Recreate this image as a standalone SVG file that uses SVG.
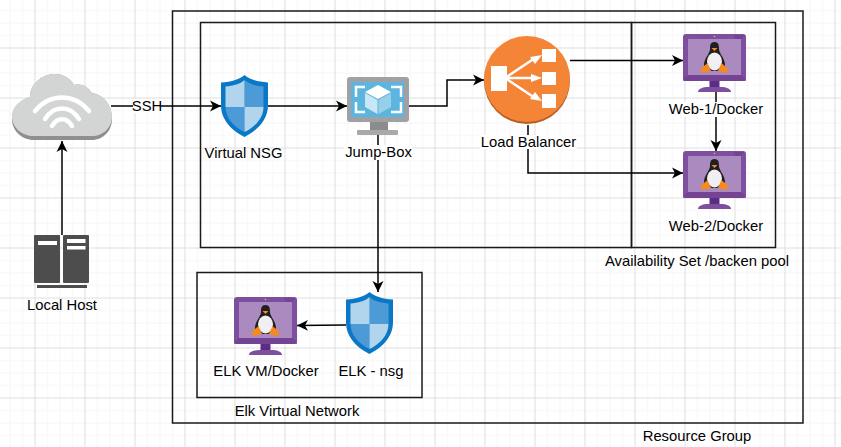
<svg xmlns="http://www.w3.org/2000/svg" width="841" height="447" viewBox="0 0 841 447">
<style>
text{font-family:"Liberation Sans",Arial,sans-serif;font-size:14.8px;fill:#000;text-anchor:middle}
.box{fill:none;stroke:#1a1a1a;stroke-width:1.5}
.edge{fill:none;stroke:#000;stroke-width:1.5;marker-end:url(#arrow)}
.lb{fill:#fff}
</style>
<defs>
<pattern id="grid" width="50" height="50" patternUnits="userSpaceOnUse" x="-15.5" y="-2.5">
<g fill="#f5f5f5"><rect x="12.5" width="1" height="50"/><rect x="25" width="1" height="50"/><rect x="37.5" width="1" height="50"/><rect y="12.5" width="50" height="1"/><rect y="25" width="50" height="1"/><rect y="37.5" width="50" height="1"/></g>
<g fill="#dedede"><rect width="1" height="50"/><rect width="50" height="1"/></g>
</pattern>
<marker id="arrow" markerUnits="userSpaceOnUse" markerWidth="14" markerHeight="12" refX="11" refY="6" orient="auto"><path d="M0,0.5 L11,6 L0,11.5 L3,6 Z" fill="#000"/></marker>
<g id="shield">
<path d="M23.5,0 C28,4 36,7 47,7.5 L47,30 C47,46 35,56 23.5,62 C12,56 0,46 0,30 L0,7.5 C11,7 19,4 23.5,0 Z" fill="#0a78c6"/>
<path d="M23.5,5 C28,9 35,11 42.5,11.5 L42.5,32 L23.5,32 Z" fill="#4d9bd6"/>
<path d="M23.5,5 C19,9 12,11 4.5,11.5 L4.5,32 L23.5,32 Z" fill="#b2d5ee"/>
<path d="M4.5,32 L23.5,32 L23.5,57 C13,52 4.5,43 4.5,32 Z" fill="#4d9bd6"/>
<path d="M42.5,32 L23.5,32 L23.5,57 C34,52 42.5,43 42.5,32 Z" fill="#b2d5ee"/>
</g>
<g id="linuxvm">
<rect x="0" y="0" width="63" height="47" rx="3" fill="#7f4f9f"/>
<rect x="5" y="5" width="53" height="36" fill="#ab8abf"/>
<path d="M0,45 L5,41 L58,41 L63,45 L63,47 L0,47 Z M58,5 L62,1 L50,1 L52,5 Z" fill="#6f3f8f" opacity=".7"/>
<rect x="26.500" y="47" width="10" height="6" fill="#5c2d84"/>
<path d="M15,58 C15,55 19,53 26,53 L37,53 C44,53 48,55 48,58 Z" fill="#7f4f9f"/>
<circle cx="31.500" cy="2.500" r=".8" fill="#c9c94a"/>
<path d="M31.500,8 C27.500,8 27,11 27,15 C27,19 22,23 21,30 C21,35 25,37 31.500,37 C38,37 42,35 42,30 C41,23 36,19 36,15 C36,11 35.500,8 31.500,8 Z" fill="#231f20"/>
<ellipse cx="31.500" cy="27.500" rx="7.500" ry="9" fill="#f1eff3"/>
<path d="M28.500,14 L34.500,14 L31.500,17 Z" fill="#f58b1f"/>
<path d="M20,33 L24.500,29 L28,37 L20,39 L17,36 Z M43,33 L38.500,29 L35,37 L43,39 L46,36 Z" fill="#f58b1f"/>
</g>
</defs>
<rect id="background" width="841" height="447" fill="#fff"/>
<rect width="841" height="447" fill="url(#grid)"/>

<g id="containers">
<rect class="box" x="172.500" y="11" width="630.500" height="412"/>
<rect class="box" x="200.500" y="22.500" width="431" height="225"/>
<rect class="box" x="631.500" y="22.500" width="144" height="225"/>
<rect class="box" x="197" y="272.500" width="225" height="125"/>
</g>

<g id="connectors">
<path class="edge" d="M111,106 H221"/>
<path class="edge" d="M268,106 H347"/>
<path class="edge" d="M409,106 H447 V80 H484"/>
<path class="edge" d="M62,235 V141"/>
<path class="edge" d="M570,60.500 H683"/>
<path class="edge" d="M528,125 V173 H683"/>
<path class="edge" d="M716,92 V151"/>
<path class="edge" d="M378,135 L378,292"/>
<path class="edge" d="M346,325 L297,325.500"/>
</g>

<g id="ssh-label"><rect class="lb" x="133" y="99" width="28" height="14"/><text x="147" y="111">SSH</text></g>

<g id="cloud">
<path d="M12,119 C12,108 20,100 30,97 C30,84 42,74 55,74 C63,74 70,78 74,85 C80,83 88,86 92,93 C104,95 112,105 112,119 C112,131 103,140 92,140 L34,140 C22,140 12,131 12,119 Z" fill="#8f8f8f"/>
<path d="M12,116 C12,106 20,100 30,97 C30,84 42,74 55,74 C63,74 70,78 74,85 C80,83 88,86 92,93 C104,95 112,105 112,116 C112,128 103,136 92,136 L34,136 C22,136 12,128 12,116 Z" fill="#d3d4d4"/>
<g fill="none" stroke="#fff" stroke-width="4.500" stroke-linecap="round"><path d="M35,111 C50,93 74,93 89,111"/><path d="M45,119 C54,105 70,105 79,119"/><path d="M52,126 C57,117 67,117 72,126"/></g>
</g>

<g id="local-host">
<g fill="#4d4d4d"><rect x="34" y="235" width="26" height="48" rx="1"/><rect x="63" y="235" width="26" height="48" rx="1"/><rect x="37" y="285" width="50" height="3"/></g>
<g fill="#fff"><rect x="38" y="241" width="19" height="4"/><rect x="67" y="239" width="18.500" height="4"/><rect x="67" y="246" width="18.500" height="3.500"/></g>
<text x="62" y="310">Local Host</text>
</g>

<g id="virtual-nsg"><use href="#shield" x="221" y="75"/><text x="243.500" y="158">Virtual NSG</text></g>

<g id="jump-box">
<rect x="347" y="77" width="62" height="45" rx="3" fill="#9fa1a4"/>
<rect x="351" y="82" width="53" height="35" fill="#5cb5de"/>
<rect x="370" y="122" width="18" height="8" fill="#8a8c8e"/>
<rect x="357" y="130" width="41" height="5" rx="1" fill="#a7a9ab"/>
<path d="M365,87 H356 V97 M391,87 H401 V97 M356,102 V112 H365 M401,102 V112 H391" fill="none" stroke="#fff" stroke-width="2.500"/>
<path d="M378,85 L365,92 L378,99 L391,92 Z" fill="#fff"/>
<path d="M365,93 L377.500,100 L377.500,114 L365,107 Z" fill="#c9e6f4"/>
<path d="M391,93 L378.500,100 L378.500,114 L391,107 Z" fill="#98cfe8"/>
<rect class="lb" x="344" y="145" width="68" height="15"/>
<text x="378.500" y="157">Jump-Box</text>
</g>

<g id="load-balancer">
<circle cx="527" cy="81" r="43" fill="#b55f25"/>
<circle cx="527" cy="79" r="43" fill="#f58536"/>
<g fill="#fff"><rect x="491" y="66" width="16" height="25"/><rect x="542" y="49" width="14" height="13"/><rect x="542" y="72" width="14" height="13"/><rect x="542" y="94" width="14" height="14"/></g>
<g fill="none" stroke="#fff" stroke-width="2.500"><path d="M505,78 L535,58 M505,78 H536 M505,78 L535,98"/></g>
<g fill="#fff"><path d="M542,55 L530,57 L535,64 Z M542,78 L531,74 L531,82 Z M542,101 L535,92 L530,99 Z"/></g>
<rect class="lb" x="480" y="135" width="97" height="14"/>
<text x="528.500" y="147">Load Balancer</text>
</g>

<g id="web-1"><use href="#linuxvm" x="683" y="34"/><rect class="lb" x="668" y="102" width="96" height="15"/><text x="716" y="114">Web-1/Docker</text></g>
<g id="web-2"><use href="#linuxvm" x="683" y="151"/><text x="716" y="231">Web-2/Docker</text></g>
<g id="availability-label"><text x="697" y="266">Availability Set /backen pool</text></g>
<g id="elk-nsg"><use href="#shield" x="346" y="292"/><text x="371" y="376">ELK - nsg</text></g>
<g id="elk-vm"><use href="#linuxvm" x="234" y="297"/><text x="266" y="376">ELK VM/Docker</text></g>
<g id="labels">
<text x="297" y="416">Elk Virtual Network</text>
<text x="697" y="441">Resource Group</text>
</g>
</svg>
